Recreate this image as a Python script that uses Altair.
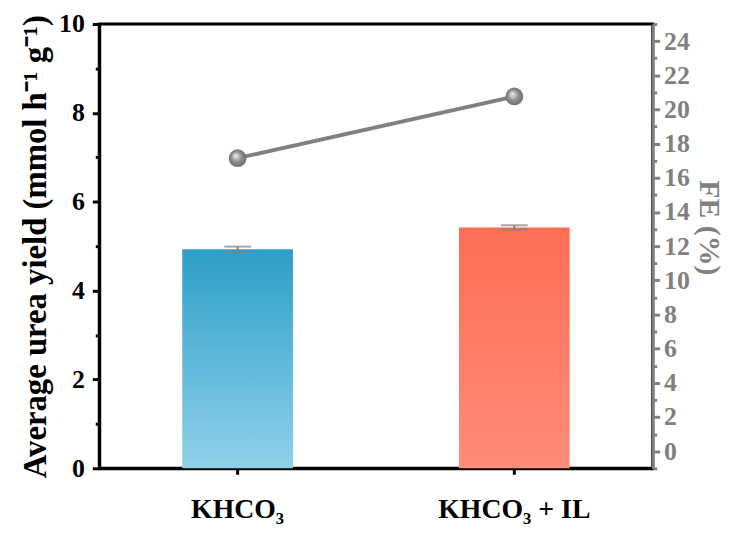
import altair as alt
import pandas as pd

categories = ["KHCO₃", "KHCO₃ + IL"]
yield_vals = [4.93, 5.42]
yield_err = [0.06, 0.05]
fe_vals = [17.15, 20.76]

df = pd.DataFrame({
    "cat": categories,
    "yield": yield_vals,
    "lo": [v - e for v, e in zip(yield_vals, yield_err)],
    "hi": [v + e for v, e in zip(yield_vals, yield_err)],
    "fe": fe_vals,
})

FONT = "Liberation Serif"
GRAY = "#808080"

x_enc = alt.X("cat:N", sort=categories, title=None,
              scale=alt.Scale(paddingInner=0.6, paddingOuter=0.3),
              axis=alt.Axis(labelFont=FONT, labelFontSize=28, labelFontWeight="bold",
                            labelColor="black", labelAngle=0, labelPadding=22,
                            tickSize=6, tickWidth=3, tickColor="black",
                            domainColor="black", domainWidth=3))

y_scale = alt.Scale(domain=[0, 10], nice=False, zero=False)
left_axis = alt.Axis(
    values=list(range(0, 11)),
    labelExpr="datum.value % 2 === 0 ? datum.label : ''",
    tickSize={"condition": {"test": "datum.value % 2 === 0", "value": 7}, "value": 4},
    tickWidth=3, tickColor="black", domainColor="black", domainWidth=3,
    labelFont=FONT, labelFontSize=26, labelFontWeight="bold", labelColor="black",
    labelPadding=8, grid=False, labelOverlap=False,
    title="Average urea yield (mmol h⁻¹ g⁻¹)", titleFont=FONT, titleFontSize=33,
    titleFontWeight="bold", titleColor="black", titlePadding=6, titleLimit=600,
)

def grad(top, bottom):
    return alt.LinearGradient(gradient="linear",
                              stops=[alt.GradientStop(color=top, offset=0),
                                     alt.GradientStop(color=bottom, offset=1)],
                              x1=0, y1=0, x2=0, y2=1)

base = alt.Chart(df)
bar_blue = base.transform_filter(alt.datum.cat == categories[0]).mark_bar(
    color=grad("#2d9ec8", "#8fd1ea")).encode(
    x=x_enc, y=alt.Y("yield:Q", scale=y_scale, axis=left_axis))
bar_red = base.transform_filter(alt.datum.cat == categories[1]).mark_bar(
    color=grad("#ff6e54", "#ff8c7a")).encode(
    x=alt.X("cat:N", sort=categories), y=alt.Y("yield:Q", axis=left_axis))
err_rule = base.mark_rule(color=GRAY, strokeWidth=2).encode(
    x=alt.X("cat:N", sort=categories), y=alt.Y("lo:Q", axis=left_axis), y2="hi:Q")
cap_hi = base.mark_tick(color=GRAY, size=27, thickness=2, orient="horizontal").encode(
    x=alt.X("cat:N", sort=categories), y=alt.Y("hi:Q", axis=left_axis))
cap_lo = base.mark_tick(color=GRAY, size=27, thickness=2, orient="horizontal").encode(
    x=alt.X("cat:N", sort=categories), y=alt.Y("lo:Q", axis=left_axis))

left = alt.layer(bar_blue, bar_red, err_rule, cap_hi, cap_lo)

fe_scale = alt.Scale(domain=[-1, 25], nice=False, zero=False)
right_axis = alt.Axis(
    orient="right",
    values=list(range(-1, 26)),
    labelExpr="datum.value % 2 === 0 ? datum.label : ''",
    tickSize={"condition": {"test": "datum.value % 2 === 0", "value": 7}, "value": 4},
    tickWidth=3, tickColor=GRAY, domainColor=GRAY, domainWidth=3,
    labelFont=FONT, labelFontSize=26, labelFontWeight="bold", labelColor=GRAY,
    labelPadding=4, grid=False, labelOverlap=False, labelBound=False,
    title="FE (%)", titleFont=FONT, titleFontSize=30, titleFontWeight="bold",
    titleColor=GRAY, titleAngle=90, titlePadding=4, titleY=205,
)

sphere = alt.RadialGradient(
    gradient="radial",
    stops=[alt.GradientStop(color="#f2f2f2", offset=0),
           alt.GradientStop(color="#8c8c8c", offset=0.55),
           alt.GradientStop(color="#6a6a6a", offset=1)],
    x1=0.38, y1=0.35, r1=0, x2=0.5, y2=0.5, r2=0.55)

fe_line = base.mark_line(color=GRAY, strokeWidth=4).encode(
    x=alt.X("cat:N", sort=categories), y=alt.Y("fe:Q", scale=fe_scale, axis=right_axis))
fe_pts = base.mark_point(filled=True, size=320, opacity=1, color=sphere).encode(
    x=alt.X("cat:N", sort=categories), y=alt.Y("fe:Q", scale=fe_scale, axis=right_axis))

right = alt.layer(fe_line, fe_pts)

chart = alt.layer(left, right).resolve_scale(y="independent").properties(
    width=558, height=448,
    autosize=alt.AutoSizeParams(type="none"),
    padding={"left": 92, "top": 14, "right": 85, "bottom": 55},
).configure_view(stroke="black", strokeWidth=3).configure_axis(labelOverlap=False)

chart.save("out.html", embed_options={"renderer": "svg", "actions": False})
